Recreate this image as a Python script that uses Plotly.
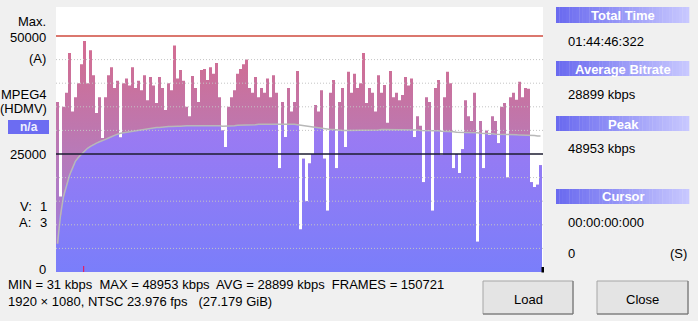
import plotly.graph_objects as go

# ---------------- data ----------------
# bitrate per time slice, in thousands of kbps
bitrate_k = [
    36, 16, 35, 38, 46.4, 34, 37, 40, 44, 48.953,
    40, 47, 41.7, 33.7, 37, 28.4, 37, 41.7, 43.4, 39,
    40.5, 28.5, 40, 41, 39.5, 43.4, 39, 40.5, 38.5, 41.7,
    36.4, 41.3, 39.5, 35.8, 41.3, 39, 34.3, 40, 38.5, 48,
    41, 42.8, 40.5, 35, 33, 41.5, 39, 36, 42.8, 43,
    40.7, 43.4, 42, 44.3, 37, 30, 26.5, 35, 37, 38.5,
    42, 43, 44, 45, 39, 38, 41.3, 37, 39, 38,
    41, 37, 41.7, 38, 22, 36, 28.6, 39, 34, 36,
    42.6, 9, 24, 15, 23, 25, 35.4, 34, 38.5, 24,
    13, 38, 40.7, 22, 36, 39, 26.5, 42.4, 38, 42,
    39, 40, 46.4, 35.8, 39, 38, 34, 41.7, 38, 39.6,
    31.6, 42.6, 37, 38, 36.4, 37.5, 41.3, 39.5, 41, 28.6,
    33, 31, 19, 37, 36, 13, 39, 40.7, 24.8, 37,
    42.4, 40, 22, 25, 21, 26, 36.4, 33, 32, 38,
    6.4, 32, 22, 30, 29, 33, 32, 27.3, 35, 35.8,
    20, 37, 38, 36.5, 40.3, 37, 39, 38.8, 19, 18,
    18.5, 22.6,
]
# running average line, in thousands of kbps
running_avg_k = [
    6, 12, 16, 18.5, 20.5, 22, 23.5, 24.3, 25, 25.6,
    26.2, 26.6, 27, 27.3, 27.6, 27.8, 28.1, 28.4, 28.7, 29,
    29.2, 29.4,
    29.5, 29.6, 29.7, 29.8, 29.9, 30, 30.1, 30.2, 30.3, 30.5,
    30.5, 30.6, 30.6, 30.7, 30.7, 30.8, 30.8, 30.9, 30.9, 30.9,
    31, 31, 31, 31, 31, 31, 31,
    31.0, 31.0, 31.0, 31.1, 31.1, 31.0, 30.9, 30.9, 30.9, 31.0,
    31.0, 31.1, 31.1, 31.1, 31.2, 31.2, 31.2, 31.2, 31.3, 31.3,
    31.3, 31.3, 31.3, 31.4, 31.4, 31.4, 31.3, 31.3, 31.3, 31.3,
    31.3, 31.2, 31.1, 31.0, 30.9, 30.8, 30.7, 30.6, 30.6, 30.5,
    30.4, 30.3, 30.2, 30.2, 30.1, 30.1, 30.0, 30.0,
    30.0, 30.0, 30.0, 30.1, 30.1, 30.1, 30.1, 30.1, 30.1, 30.1,
    30.1, 30.2, 30.2, 30.2, 30.2, 30.2, 30.2, 30.2, 30.2,
    30.2, 30.2, 30.2, 30.1, 30.1, 30.0, 30.0, 30.0, 29.9, 29.9,
    29.9, 29.9, 29.8, 29.8, 29.8, 29.7, 29.7, 29.6, 29.6, 29.5,
    29.5, 29.5, 29.5, 29.5, 29.5, 29.4, 29.4, 29.3, 29.3, 29.3,
    29.2, 29.2, 29.2, 29.2, 29.1, 29.1, 29.1, 29.1, 29.0, 29.0,
    29.0, 29.0, 28.9, 28.9, 28.8, 28.8,
]
grid_levels = [5000, 10000, 15000, 20000, 30000, 35000, 40000, 45000]
max_level = 50000
mid_level = 25000
y_tick_labels = {"50000": 50000, "25000": 25000, "0": 0}

stats_line1 = "MIN = 31 kbps  MAX = 48953 kbps  AVG = 28899 kbps  FRAMES = 150721"
stats_line2 = "1920 × 1080, NTSC 23.976 fps   (27.179 GiB)"
panel_headers = ["Total Time", "Average Bitrate", "Peak", "Cursor"]
panel_values = ["01:44:46:322", "28899 kbps", "48953 kbps", "00:00:00:000"]

# ---------------- figure ----------------
W, H = 698, 321
PX0, PX1, PY_TOP, PY_BOT = 56, 543, 7, 272
PX_PER_K = 4.72
Y_MAX = (PY_BOT - PY_TOP) / PX_PER_K * 1000
SLICE_PX = 3

n = min(len(bitrate_k), len(running_avg_k))
kbps = [v * 1000 for v in bitrate_k[:n]]
avg = [v * 1000 for v in running_avg_k[:n]]
below = [min(a, b) for a, b in zip(kbps, avg)]

xs = list(range(n + 1))
FONT = "Liberation Sans"


def fx(px):
    return px / W


def fy(py):
    return 1 - py / H


fig = go.Figure()
fig.add_trace(go.Scatter(
    x=xs, y=kbps + [kbps[-1]], mode="lines", line=dict(width=0, shape="hv"),
    fill="tozeroy",
    fillgradient=dict(type="vertical", start=0, stop=Y_MAX,
                      colorscale=[[0, "#9c7ee6"], [0.45, "#b87ab8"], [0.75, "#cc7099"], [1, "#dc6a8c"]]),
    hoverinfo="skip"))
fig.add_trace(go.Scatter(
    x=xs, y=below + [below[-1]], mode="lines", line=dict(width=0, shape="hv"),
    fill="tozeroy",
    fillgradient=dict(type="vertical", start=0, stop=Y_MAX,
                      colorscale=[[0, "#7a7efa"], [0.55, "#9c7af2"], [1, "#b078e6"]]),
    hoverinfo="skip"))
fig.add_trace(go.Scatter(
    x=[i + 0.5 for i in range(n)], y=avg, mode="lines",
    line=dict(color="#b8b8b8", width=1.5), hoverinfo="skip"))

shapes = []
for g in grid_levels:
    shapes.append(dict(type="line", xref="paper", yref="y", x0=fx(PX0), x1=fx(PX1), y0=g, y1=g,
                       line=dict(color="#c4c4c4", width=1, dash="1px,2px"), layer="above"))
shapes.append(dict(type="line", xref="paper", yref="y", x0=fx(PX0), x1=fx(PX1), y0=max_level, y1=max_level,
                   line=dict(color="#cf4a3e", width=1.6), layer="above"))
shapes.append(dict(type="line", xref="paper", yref="y", x0=fx(PX0), x1=fx(PX1), y0=mid_level, y1=mid_level,
                   line=dict(color="#1c1c30", width=1.6), layer="above"))
# peak marker
imax = max(range(n), key=lambda i: kbps[i])
shapes.append(dict(type="line", xref="x", yref="paper", x0=imax + 0.2, x1=imax + 0.2,
                   y0=fy(272), y1=fy(266), line=dict(color="#e0206a", width=1.2), layer="above"))
# end marker
shapes.append(dict(type="rect", xref="paper", yref="paper", x0=fx(541.5), x1=fx(544), y0=fy(272.5), y1=fy(267),
                   fillcolor="#000000", line=dict(width=0), layer="above"))


def header_bar(y0, y1, x0=556, x1=689, steps=40):
    c0 = (106, 106, 240)
    c1 = (200, 200, 255)
    w = (x1 - x0) / steps
    for k in range(steps):
        t = k / (steps - 1)
        c = tuple(int(c0[j] + (c1[j] - c0[j]) * t) for j in range(3))
        shapes.append(dict(type="rect", xref="paper", yref="paper",
                           x0=fx(x0 + k * w), x1=fx(x0 + (k + 1) * w + 0.3),
                           y0=fy(y1), y1=fy(y0), fillcolor="rgb(%d,%d,%d)" % c,
                           line=dict(width=0), layer="above"))


header_rows = [(7, 23), (61, 76), (116, 131), (189, 204)]
for (a, b) in header_rows:
    header_bar(a, b)

# n/a box
shapes.append(dict(type="rect", xref="paper", yref="paper", x0=fx(8), x1=fx(49), y0=fy(134), y1=fy(120),
                   fillcolor="#6c6cf2", line=dict(width=0), layer="above"))


def button(x0, x1, y0, y1):
    shapes.append(dict(type="rect", xref="paper", yref="paper", x0=fx(x0), x1=fx(x1), y0=fy(y1), y1=fy(y0),
                       fillcolor="#e4e4e4", line=dict(color="#a6a6a6", width=1), layer="above"))
    shapes.append(dict(type="line", xref="paper", yref="paper", x0=fx(x0), x1=fx(x1), y0=fy(y1), y1=fy(y1),
                       line=dict(color="#6e6e6e", width=1), layer="above"))
    shapes.append(dict(type="line", xref="paper", yref="paper", x0=fx(x1), x1=fx(x1), y0=fy(y1), y1=fy(y0),
                       line=dict(color="#6e6e6e", width=1), layer="above"))


button(483, 573, 281, 314)
button(597, 688, 281, 314)

ann = []


def text(s, px, py, anchor="left", size=13, color="#000000", bold=False):
    if bold:
        s = "<b>%s</b>" % s
    ann.append(dict(text=s, x=fx(px), y=fy(py), xref="paper", yref="paper", showarrow=False,
                    xanchor=anchor, yanchor="middle", font=dict(family=FONT, size=size, color=color)))


text("Max.", 48, 21, "right")
for lab, val in y_tick_labels.items():
    py = PY_BOT - val / 1000 * PX_PER_K
    text(lab, 48, py + (1 if val else -3), "right")
text("(A)", 48, 58, "right")
text("MPEG4", 49, 94, "right")
text("(HDMV)", 49, 109, "right")
text("n/a", 28.5, 127, "center", 12, "#eef0ff", True)
text("V:", 34, 206, "right")
text("1", 49, 206, "right")
text("A:", 33, 222, "right")
text("3", 49, 222, "right")

text(stats_line1, 6, 284)
text(stats_line2, 6, 301)

header_centers = [15, 69, 124, 196]
for s, cy in zip(panel_headers, header_centers):
    text(s, 623, cy, "center", 13, "#ffffff", True)
value_rows = [41, 94, 148, 222]
for s, cy in zip(panel_values, value_rows):
    text(s, 566, cy)
text("0", 566, 253)
text("(S)", 689, 253, "right")

text("Load", 528, 299, "center")
text("Close", 642.5, 299, "center")

fig.update_layout(
    width=W, height=H, margin=dict(l=0, r=0, t=0, b=0),
    paper_bgcolor="#f0f0f0", plot_bgcolor="#ffffff", showlegend=False,
    xaxis=dict(domain=[fx(PX0), fx(PX1)], range=[0, (PX1 - PX0) / SLICE_PX], visible=False, fixedrange=True),
    yaxis=dict(domain=[fy(PY_BOT), fy(PY_TOP)], range=[0, Y_MAX], visible=False, fixedrange=True),
    shapes=shapes, annotations=ann,
)
fig.write_html("out.html", config={"displayModeBar": False})
